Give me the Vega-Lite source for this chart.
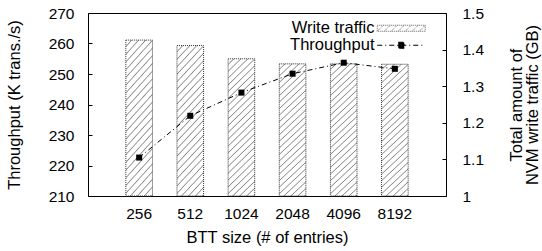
{
  "$schema": "https://vega.github.io/schema/vega-lite/v6.json",
  "autosize": {"type": "none"},
  "padding": {"left": 88, "top": 13, "right": 96, "bottom": 55},
  "width": 358,
  "height": 183,
  "config": {
    "font": "Liberation Sans",
    "view": {"stroke": "#000", "strokeWidth": 1},
    "axis": {"labelFont": "Liberation Sans", "titleFont": "Liberation Sans", "labelColor": "#000", "titleColor": "#000", "titleFontWeight": "normal", "labelFontSize": 15.5, "titleFontSize": 16.5, "grid": false, "domain": false, "tickColor": "#000"}
  },
  "data": {
    "values": [
      {"size": "256", "tp": 222.6, "wt": 1.426},
      {"size": "512", "tp": 236.3, "wt": 1.411},
      {"size": "1024", "tp": 243.9, "wt": 1.375},
      {"size": "2048", "tp": 250.1, "wt": 1.361},
      {"size": "4096", "tp": 253.7, "wt": 1.361},
      {"size": "8192", "tp": 251.7, "wt": 1.360}
    ]
  },
  "encoding": {
    "x": {"field": "size", "type": "nominal", "sort": null, "scale": {"paddingInner": 0.48, "paddingOuter": 0.74}, "axis": {"title": "BTT size (# of entries)", "labelAngle": 0, "ticks": false, "labelPadding": 10, "titlePadding": 8}}
  },
  "layer": [
    {
      "mark": {
        "type": "bar",
        "stroke": "#333",
        "strokeWidth": 1,
        "strokeDash": [1, 1],
        "fill": {
          "gradient": "linear", "x1": 0, "y1": 0, "x2": 0.2166, "y2": 1.148,
          "stops": [
            {"offset": 0, "color": "#ffffff"}, {"offset": 0.028, "color": "#ffffff"}, {"offset": 0.0350, "color": "#8a8a8a"},
            {"offset": 0.0417, "color": "#ffffff"}, {"offset": 0.0697, "color": "#ffffff"}, {"offset": 0.0767, "color": "#8a8a8a"},
            {"offset": 0.0833, "color": "#ffffff"}, {"offset": 0.1113, "color": "#ffffff"}, {"offset": 0.1183, "color": "#8a8a8a"},
            {"offset": 0.125, "color": "#ffffff"}, {"offset": 0.153, "color": "#ffffff"}, {"offset": 0.16, "color": "#8a8a8a"},
            {"offset": 0.1667, "color": "#ffffff"}, {"offset": 0.1947, "color": "#ffffff"}, {"offset": 0.2017, "color": "#8a8a8a"},
            {"offset": 0.2083, "color": "#ffffff"}, {"offset": 0.2363, "color": "#ffffff"}, {"offset": 0.2433, "color": "#8a8a8a"},
            {"offset": 0.25, "color": "#ffffff"}, {"offset": 0.278, "color": "#ffffff"}, {"offset": 0.285, "color": "#8a8a8a"},
            {"offset": 0.2917, "color": "#ffffff"}, {"offset": 0.3197, "color": "#ffffff"}, {"offset": 0.3267, "color": "#8a8a8a"},
            {"offset": 0.3333, "color": "#ffffff"}, {"offset": 0.3613, "color": "#ffffff"}, {"offset": 0.3683, "color": "#8a8a8a"},
            {"offset": 0.375, "color": "#ffffff"}, {"offset": 0.403, "color": "#ffffff"}, {"offset": 0.41, "color": "#8a8a8a"},
            {"offset": 0.4167, "color": "#ffffff"}, {"offset": 0.4447, "color": "#ffffff"}, {"offset": 0.4517, "color": "#8a8a8a"},
            {"offset": 0.4583, "color": "#ffffff"}, {"offset": 0.4863, "color": "#ffffff"}, {"offset": 0.4933, "color": "#8a8a8a"},
            {"offset": 0.5, "color": "#ffffff"}, {"offset": 0.528, "color": "#ffffff"}, {"offset": 0.535, "color": "#8a8a8a"},
            {"offset": 0.5417, "color": "#ffffff"}, {"offset": 0.5697, "color": "#ffffff"}, {"offset": 0.5767, "color": "#8a8a8a"},
            {"offset": 0.5833, "color": "#ffffff"}, {"offset": 0.6113, "color": "#ffffff"}, {"offset": 0.6183, "color": "#8a8a8a"},
            {"offset": 0.625, "color": "#ffffff"}, {"offset": 0.653, "color": "#ffffff"}, {"offset": 0.66, "color": "#8a8a8a"},
            {"offset": 0.6667, "color": "#ffffff"}, {"offset": 0.6947, "color": "#ffffff"}, {"offset": 0.7017, "color": "#8a8a8a"},
            {"offset": 0.7083, "color": "#ffffff"}, {"offset": 0.7363, "color": "#ffffff"}, {"offset": 0.7433, "color": "#8a8a8a"},
            {"offset": 0.75, "color": "#ffffff"}, {"offset": 0.778, "color": "#ffffff"}, {"offset": 0.785, "color": "#8a8a8a"},
            {"offset": 0.7917, "color": "#ffffff"}, {"offset": 0.8197, "color": "#ffffff"}, {"offset": 0.8267, "color": "#8a8a8a"},
            {"offset": 0.8333, "color": "#ffffff"}, {"offset": 0.8613, "color": "#ffffff"}, {"offset": 0.8683, "color": "#8a8a8a"},
            {"offset": 0.875, "color": "#ffffff"}, {"offset": 0.903, "color": "#ffffff"}, {"offset": 0.91, "color": "#8a8a8a"},
            {"offset": 0.9167, "color": "#ffffff"}, {"offset": 0.9447, "color": "#ffffff"}, {"offset": 0.9517, "color": "#8a8a8a"},
            {"offset": 0.9583, "color": "#ffffff"}, {"offset": 0.9863, "color": "#ffffff"}, {"offset": 0.9933, "color": "#8a8a8a"},
            {"offset": 1, "color": "#ffffff"}
          ]
        }
      },
      "encoding": {
        "y": {"field": "wt", "type": "quantitative", "scale": {"domain": [1, 1.5], "zero": false, "nice": false},
          "axis": {"orient": "right", "values": [1, 1.1, 1.2, 1.3, 1.4, 1.5], "format": ".1~f", "tickSize": -4, "labelPadding": 20, "title": ["Total amount of", "NVM write traffic (GB)"], "titleAngle": 270, "titleBaseline": "top", "titlePadding": 8, "titleLineHeight": 16.5}},
        "y2": {"datum": 1}
      }
    },
    {
      "mark": {"type": "line", "strokeWidth": 1, "strokeDash": [5, 3, 1, 3], "point": {"shape": "square", "filled": true, "size": 36, "strokeDash": [1, 0]}},
      "encoding": {
        "y": {"field": "tp", "type": "quantitative", "scale": {"domain": [210, 270], "zero": false, "nice": false},
          "axis": {"orient": "left", "values": [210, 220, 230, 240, 250, 260, 270], "tickSize": -4, "labelPadding": 18, "title": "Throughput (K trans./s)", "titlePadding": 26}},
        "color": {"datum": "Throughput", "type": "nominal", "scale": {"domain": ["Write traffic", "Throughput"], "range": ["#666666", "#000000"]},
          "legend": {
            "title": null, "orient": "none", "legendX": 305, "legendY": 7, "padding": 0, "rowPadding": 0,
            "labelFontSize": 16.5, "labelFont": "Liberation Sans", "labelColor": "#000", "labelAlign": "right", "labelOffset": -35, "symbolSize": 100,
            "encode": {
              "symbols": {
                "update": {
                  "shape": [
                    {"test": "datum.value === 'Write traffic'", "value": "M-4.8,-0.6H4.8M4.8,-0.6V0.6M4.8,0.6H-4.8M-4.8,0.6V-0.6M-4.8,0.6L-3.6,-0.6M-3.4,0.6L-2.2,-0.6M-2,0.6L-0.8,-0.6M-0.6,0.6L0.6,-0.6M0.8,0.6L2,-0.6M2.2,0.6L3.4,-0.6M3.6,0.6L4.8,-0.6"},
                    {"value": "M-4.8,0H4.8M-0.6,-0.6H0.6V0.6H-0.6Z"}
                  ],
                  "strokeDash": [
                    {"test": "datum.value === 'Write traffic'", "value": [1, 1]},
                    {"value": [5, 3, 1, 3]}
                  ],
                  "strokeWidth": {"value": 1},
                  "opacity": {"value": 1},
                  "fillOpacity": {"value": 1}
                }
              }
            }
          }
        }
      }
    }
  ],
  "resolve": {"scale": {"y": "independent"}}
}
